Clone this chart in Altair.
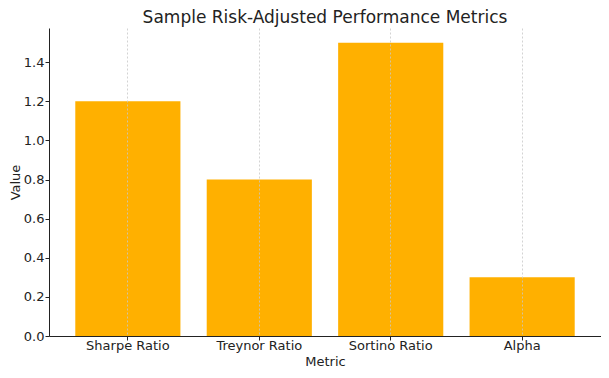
import altair as alt
import pandas as pd

metrics = ["Sharpe Ratio", "Treynor Ratio", "Sortino Ratio", "Alpha"]
values = [1.2, 0.8, 1.5, 0.3]
y_ticks = [0.0, 0.2, 0.4, 0.6, 0.8, 1.0, 1.2, 1.4]

df = pd.DataFrame({"Metric": metrics, "Value": values})

FONT = "DejaVu Sans"

chart = alt.Chart(df).mark_bar(color="#FFB000").encode(
    x=alt.X("Metric:N", sort=metrics, title="Metric",
            scale=alt.Scale(paddingInner=0.2, paddingOuter=0.2),
            axis=alt.Axis(labelAngle=0, grid=True, gridDash=[2, 2], gridColor="#c8c8c8",
                          gridWidth=0.8, bandPosition=0.5, zindex=1,
                          domainColor="#222", tickColor="#222", tickSize=4,
                          labelFontSize=13, titleFontSize=13, labelFont=FONT, titleFont=FONT,
                          labelColor="#222", titleColor="#222", titleFontWeight="normal",
                          labelPadding=-1, titlePadding=3)),
    y=alt.Y("Value:Q", title="Value",
            scale=alt.Scale(domain=[0, 1.575], nice=False, zero=True),
            axis=alt.Axis(values=y_ticks, format=".1f", grid=False,
                          domainColor="#222", tickColor="#222", tickSize=4,
                          labelFontSize=13, titleFontSize=13, labelFont=FONT, titleFont=FONT,
                          labelColor="#222", titleColor="#222", titleFontWeight="normal",
                          labelPadding=1, titlePadding=1)),
).properties(
    width=552,
    height=308,
    title=alt.TitleParams("Sample Risk-Adjusted Performance Metrics", font=FONT,
                          fontSize=17, fontWeight="normal", color="#222", offset=1),
    autosize=alt.AutoSizeParams(type="none"),
    padding={"left": 41, "top": 20, "right": 0, "bottom": 36},
).configure_view(stroke=None)

chart.save("out.html", embed_options={"renderer": "svg", "actions": False})
